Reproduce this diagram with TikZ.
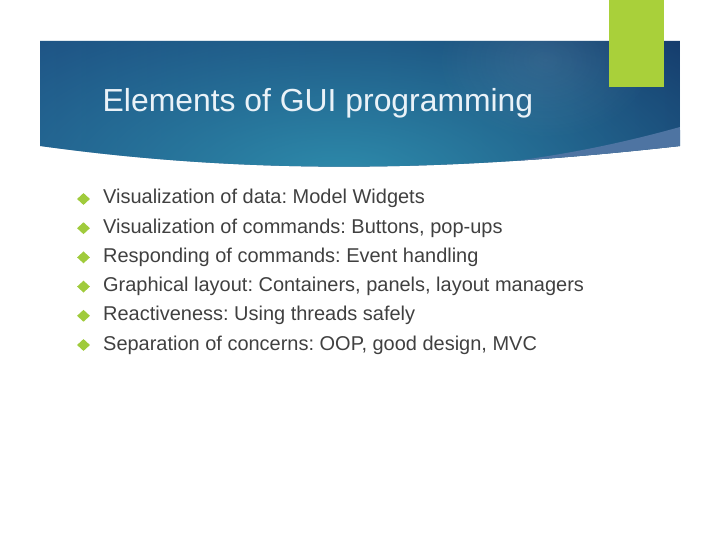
\documentclass[tikz,border=0pt]{standalone}
\usepackage{fontspec}
\setmainfont{Liberation Sans}
\usetikzlibrary{shapes.geometric,fadings}
\definecolor{bannerleft}{HTML}{1D4F82}
\definecolor{bannerdark}{HTML}{153A6B}
\definecolor{bannerteal}{HTML}{2E8CAC}
\definecolor{bandblue}{HTML}{4E74A2}
\definecolor{limegreen}{HTML}{A9D03A}
\definecolor{bulletgreen}{HTML}{A0CB3C}
\definecolor{bodygray}{HTML}{404040}
\definecolor{titlewhite}{HTML}{EAF2F8}
\tikzfading[name=glow, inner color=transparent!0, outer color=transparent!100]
\tikzset{
  titletext/.style = {anchor=base west, inner sep=0pt, text=titlewhite, font=\fontsize{32}{38}\selectfont},
  itemtext/.style = {anchor=base west, inner sep=0pt, text=bodygray, font=\fontsize{20.05}{24}\selectfont},
  bulletmark/.style = {diamond, inner sep=0pt, minimum width=13bp, minimum height=12bp, fill=bulletgreen}
}
\frenchspacing

\begin{document}
\begin{tikzpicture}[x=1bp, y=-1bp]
  \useasboundingbox (0,0) rectangle (720,540);
  % banner
  \begin{scope}
    \clip (40,41) -- (680,41) -- (680,146) .. controls (450,172) and (250,175) .. (40,146) -- cycle;
    \shade[left color=bannerleft, right color=bannerdark] (40,41) rectangle (680,180);
    \fill[bannerteal, path fading=glow] (340,180) ellipse (480bp and 210bp);
    \fill[white, fill opacity=0.09, path fading=glow] (545,60) ellipse (110bp and 80bp);
    \fill[bandblue] (680,127) .. controls (590,152) and (520,162) .. (420,172) -- (420,200) -- (700,200) -- cycle;
  \end{scope}
  \fill[limegreen] (609,0) rectangle (664,87);
  \node [titletext] (title) at (102.5,112) {Elements of GUI programming};
  % bullet list
  \node [itemtext] (item1) at (103,204) {Visualization of data: Model Widgets};
  \node [itemtext] (item2) at (103,233.2) {Visualization of commands: Buttons, pop-ups};
  \node [itemtext] (item3) at (103,262.4) {Responding of commands: Event handling};
  \node [itemtext] (item4) at (103,291.6) {Graphical layout: Containers, panels, layout managers};
  \node [itemtext] (item5) at (103,320.8) {Reactiveness: Using threads safely};
  \node [itemtext] (item6) at (103,350) {Separation of concerns: OOP, good design, MVC};
  \node [bulletmark] (mark1) at (83.5,199) {};
  \node [bulletmark] (mark2) at (83.5,228.2) {};
  \node [bulletmark] (mark3) at (83.5,257.4) {};
  \node [bulletmark] (mark4) at (83.5,286.6) {};
  \node [bulletmark] (mark5) at (83.5,315.8) {};
  \node [bulletmark] (mark6) at (83.5,345) {};
\end{tikzpicture}
\end{document}
